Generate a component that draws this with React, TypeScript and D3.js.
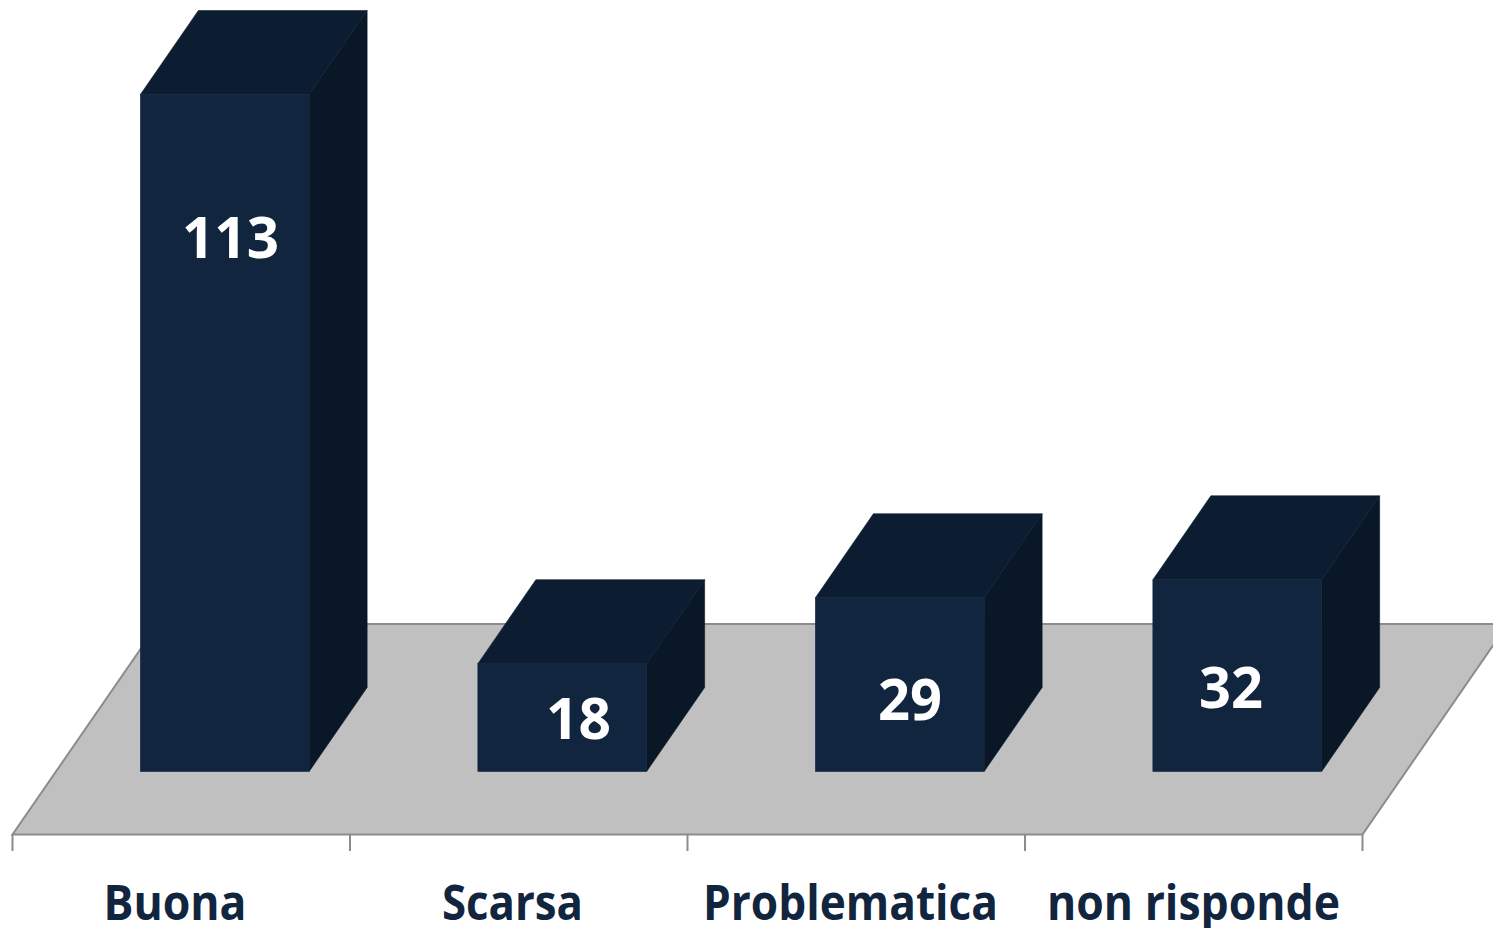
import React from "react";
import * as d3 from "d3";

const categories = ["Buona", "Scarsa", "Problematica", "non risponde"];
const values = [113, 18, 29, 32];

// layout
const W = 1493, H = 928;
const floorFrontY = 834.5, floorBackY = 624;
const axisLeft = 12.5, axisRight = 1362.5;
const baseY = 771.5;
const slant = 58 / 84; // horizontal shift per vertical pixel of depth
const depthY = 84;
const depthX = depthY * slant;
const barShift = (floorFrontY - baseY) * slant;

const x = d3.scaleBand<string>().domain(categories).range([axisLeft, axisRight]).paddingInner(0).paddingOuter(0);
const y = d3.scaleLinear().domain([0, 113]).range([baseY, 94.5]);
const tickXs = [...categories.map((c) => x(c)!), axisRight];

// hand placement of the labels, as in the original slide
const valueLabelX = [230.5, 578.5, 910, 1231];
const valueLabelY = [258, 738.5, 720, 708];
const valueLabelW = [97, 65, 64, 64];
const catLabelX = [175, 512.5, 850.5, 1193.5];
const catLabelW = [143, 141, 295, 293];

const FONT = "'Open Sans', 'Noto Sans', sans-serif";
const poly = (pts: [number, number][]) => d3.line()(pts)! + "Z";

export default function App() {
  const floor = poly([
    [axisLeft, floorFrontY],
    [axisRight, floorFrontY],
    [axisRight + (floorFrontY - floorBackY) * slant, floorBackY],
    [axisLeft + (floorFrontY - floorBackY) * slant, floorBackY],
  ]);
  return (
    <svg
      width={W}
      height={H}
      viewBox={`0 0 ${W} ${H}`}
      style={{ position: "absolute", left: 0, top: 0, display: "block", background: "#fff" }}
    >
      <path d={floor} fill="#c0c0c0" stroke="#8c8c8c" strokeWidth={2} />
      {tickXs.map((t, i) => (
        <line key={i} x1={t} x2={t} y1={floorFrontY} y2={851} stroke="#8c8c8c" strokeWidth={2} />
      ))}
      {categories.map((c, i) => {
        const bw = x.bandwidth() / 2;
        const x0 = x(c)! + x.bandwidth() / 4 + barShift;
        const x1 = x0 + bw;
        const yt = y(values[i]);
        return (
          <g key={c}>
            <path
              d={poly([[x1, baseY], [x1 + depthX, baseY - depthY], [x1 + depthX, yt - depthY], [x1, yt]])}
              fill="#0a1727"
              stroke="#0a1727"
              strokeWidth={0.6}
            />
            <path
              d={poly([[x0, yt], [x1, yt], [x1 + depthX, yt - depthY], [x0 + depthX, yt - depthY]])}
              fill="#0c1d32"
              stroke="#0c1d32"
              strokeWidth={0.6}
            />
            <rect x={x0} y={yt} width={bw} height={baseY - yt} fill="#11253e" stroke="#11253e" strokeWidth={0.6} />
          </g>
        );
      })}
      {values.map((v, i) => (
        <text
          key={i}
          x={valueLabelX[i]}
          y={valueLabelY[i]}
          textAnchor="middle"
          fontFamily={FONT}
          fontWeight={700}
          fontSize={57}
          fill="#ffffff"
          textLength={valueLabelW[i]}
          lengthAdjust="spacingAndGlyphs"
        >
          {v}
        </text>
      ))}
      {categories.map((c, i) => (
        <text
          key={c}
          x={catLabelX[i]}
          y={920}
          textAnchor="middle"
          fontFamily={FONT}
          fontWeight={700}
          fontSize={47.5}
          fill="#11253e"
          textLength={catLabelW[i]}
          lengthAdjust="spacingAndGlyphs"
        >
          {c}
        </text>
      ))}
    </svg>
  );
}
